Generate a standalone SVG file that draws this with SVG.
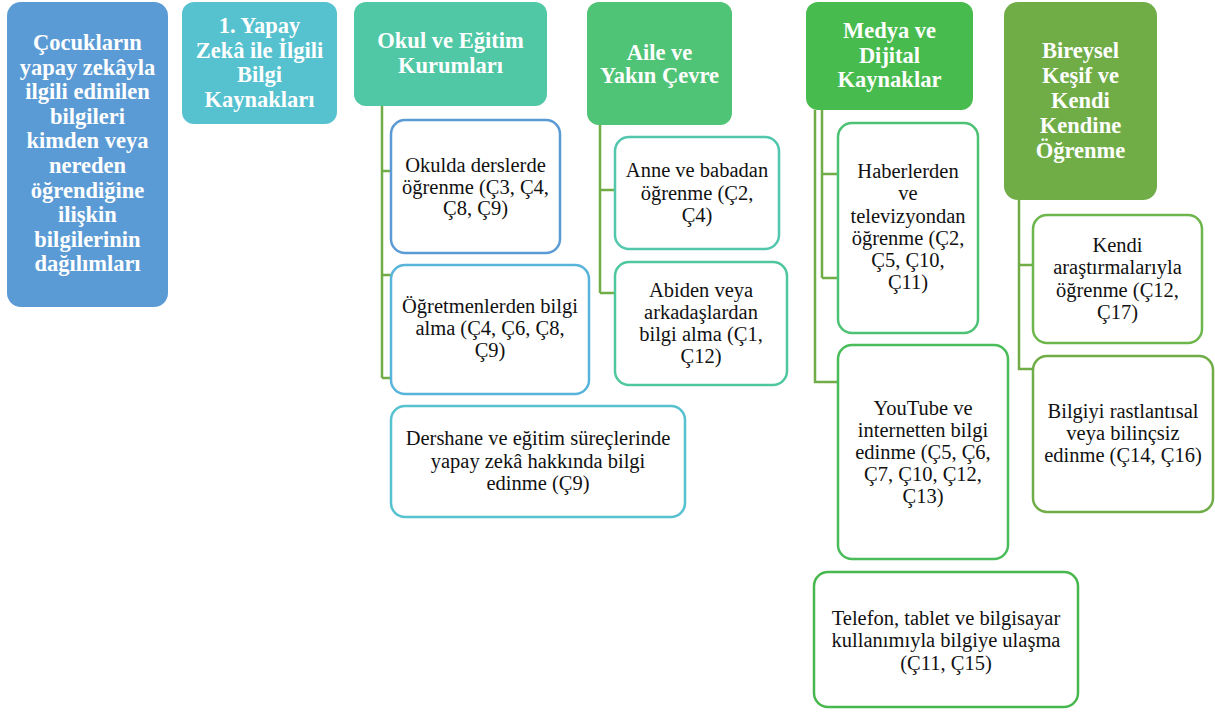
<svg xmlns="http://www.w3.org/2000/svg" width="1215" height="714" viewBox="0 0 1215 714">
<style>
.h{font-weight:bold;font-size:22.5px;fill:#fff;text-anchor:middle}
.t{font-size:20.5px;fill:#111;text-anchor:middle}
.c{fill:#fff;stroke-width:2.5}
.cn{fill:none;stroke:#70ad47;stroke-width:2.5}
</style>
<rect width="1215" height="714" fill="#fff"/>
<g id="connectors">
<path class="cn" d="M382 106 V378 M382 171 H391 M382 275 H391 M382 378 H397"/>
<path class="cn" d="M600 125 V293 M600 190 H615 M600 293 H615"/>
<path class="cn" d="M822 110 V278 M822 174 H838 M822 278 H838"/>
<path class="cn" d="M815 110 V382 H838"/>
<path class="cn" d="M1019 200 V369 H1033 M1019 265 H1033"/>
</g>
<g id="main">
<rect x="7" y="2" width="161" height="305" rx="14" fill="#5b9bd5"/>
<text class="h" font-family="Liberation Serif"><tspan x="87.5" y="50">Çocukların</tspan><tspan x="87.5" y="74.6">yapay zekâyla</tspan><tspan x="87.5" y="99.2">ilgili edinilen</tspan><tspan x="87.5" y="123.8">bilgileri</tspan><tspan x="87.5" y="148.4">kimden veya</tspan><tspan x="87.5" y="173">nereden</tspan><tspan x="87.5" y="197.6">öğrendiğine</tspan><tspan x="87.5" y="222.2">ilişkin</tspan><tspan x="87.5" y="246.8">bilgilerinin</tspan><tspan x="87.5" y="271.4">dağılımları</tspan></text>
</g>
<g id="yapay-zeka">
<rect x="182" y="2" width="155" height="122" rx="12" fill="#56c1cf"/>
<text class="h" font-family="Liberation Serif"><tspan x="259.5" y="33">1. Yapay</tspan><tspan x="259.5" y="57.6">Zekâ ile İlgili</tspan><tspan x="259.5" y="82.2">Bilgi</tspan><tspan x="259.5" y="106.8">Kaynakları</tspan></text>
</g>
<g id="okul">
<rect x="354" y="2" width="193" height="104" rx="12" fill="#50c8a6"/>
<text class="h" font-family="Liberation Serif"><tspan x="450.5" y="48">Okul ve Eğitim</tspan><tspan x="450.5" y="72.6">Kurumları</tspan></text>
</g>
<g id="aile">
<rect x="587" y="2" width="145" height="123" rx="12" fill="#4fc376"/>
<text class="h" font-family="Liberation Serif"><tspan x="659.5" y="59.5">Aile ve</tspan><tspan x="659.5" y="83">Yakın Çevre</tspan></text>
</g>
<g id="medya">
<rect x="806" y="2" width="167" height="108" rx="12" fill="#48bb4e"/>
<text class="h" font-family="Liberation Serif"><tspan x="889.5" y="38">Medya ve</tspan><tspan x="889.5" y="62.6">Dijital</tspan><tspan x="889.5" y="87.2">Kaynaklar</tspan></text>
</g>
<g id="bireysel">
<rect x="1004" y="2" width="153" height="198" rx="14" fill="#70ad47"/>
<text class="h" font-family="Liberation Serif"><tspan x="1080.5" y="58">Bireysel</tspan><tspan x="1080.5" y="83">Keşif ve</tspan><tspan x="1080.5" y="108">Kendi</tspan><tspan x="1080.5" y="133">Kendine</tspan><tspan x="1080.5" y="158">Öğrenme</tspan></text>
</g>
<g id="okulda">
<rect class="c" x="391" y="120" width="169" height="133" rx="14" stroke="#5b9bd5"/>
<text class="t" font-family="Liberation Serif"><tspan x="475.5" y="172">Okulda derslerde</tspan><tspan x="475.5" y="193.5">öğrenme (Ç3, Ç4,</tspan><tspan x="475.5" y="215">Ç8, Ç9)</tspan></text>
</g>
<g id="ogretmenler">
<rect class="c" x="391" y="265" width="198" height="129" rx="14" stroke="#58b4da"/>
<text class="t" font-family="Liberation Serif"><tspan x="490" y="313">Öğretmenlerden bilgi</tspan><tspan x="490" y="335">alma (Ç4, Ç6, Ç8,</tspan><tspan x="490" y="357">Ç9)</tspan></text>
</g>
<g id="dershane">
<rect class="c" x="391" y="406" width="294" height="111" rx="14" stroke="#56c1cf"/>
<text class="t" font-family="Liberation Serif"><tspan x="538" y="445">Dershane ve eğitim süreçlerinde</tspan><tspan x="538" y="467.5">yapay zekâ hakkında bilgi</tspan><tspan x="538" y="490">edinme (Ç9)</tspan></text>
</g>
<g id="anne-baba">
<rect class="c" x="615" y="137" width="164" height="112" rx="14" stroke="#52c7ae"/>
<text class="t" font-family="Liberation Serif"><tspan x="697" y="177">Anne ve babadan</tspan><tspan x="697" y="199.5">öğrenme (Ç2,</tspan><tspan x="697" y="222">Ç4)</tspan></text>
</g>
<g id="abiden">
<rect class="c" x="615" y="262" width="172" height="123" rx="14" stroke="#4fc79c"/>
<text class="t" font-family="Liberation Serif"><tspan x="701" y="297">Abiden veya</tspan><tspan x="701" y="319">arkadaşlardan</tspan><tspan x="701" y="341">bilgi alma (Ç1,</tspan><tspan x="701" y="363">Ç12)</tspan></text>
</g>
<g id="haberler">
<rect class="c" x="838" y="123" width="140" height="210" rx="14" stroke="#4dc274"/>
<text class="t" font-family="Liberation Serif"><tspan x="908" y="178">Haberlerden</tspan><tspan x="908" y="200">ve</tspan><tspan x="908" y="222.5">televizyondan</tspan><tspan x="908" y="245">öğrenme (Ç2,</tspan><tspan x="908" y="267">Ç5, Ç10,</tspan><tspan x="908" y="289">Ç11)</tspan></text>
</g>
<g id="youtube">
<rect class="c" x="838" y="345" width="170" height="214" rx="14" stroke="#4abd5a"/>
<text class="t" font-family="Liberation Serif"><tspan x="923" y="415">YouTube ve</tspan><tspan x="923" y="437">internetten bilgi</tspan><tspan x="923" y="459">edinme (Ç5, Ç6,</tspan><tspan x="923" y="481">Ç7, Ç10, Ç12,</tspan><tspan x="923" y="503">Ç13)</tspan></text>
</g>
<g id="telefon">
<rect class="c" x="814" y="572" width="264" height="135" rx="14" stroke="#48b84e"/>
<text class="t" font-family="Liberation Serif"><tspan x="946" y="625">Telefon, tablet ve bilgisayar</tspan><tspan x="946" y="647">kullanımıyla bilgiye ulaşma</tspan><tspan x="946" y="670">(Ç11, Ç15)</tspan></text>
</g>
<g id="kendi">
<rect class="c" x="1033" y="215" width="169" height="128" rx="14" stroke="#6db64c"/>
<text class="t" font-family="Liberation Serif"><tspan x="1117.5" y="252">Kendi</tspan><tspan x="1117.5" y="274">araştırmalarıyla</tspan><tspan x="1117.5" y="297">öğrenme (Ç12,</tspan><tspan x="1117.5" y="319">Ç17)</tspan></text>
</g>
<g id="bilgiyi">
<rect class="c" x="1033" y="356" width="180" height="156" rx="14" stroke="#70ad47"/>
<text class="t" font-family="Liberation Serif"><tspan x="1123" y="418">Bilgiyi rastlantısal</tspan><tspan x="1123" y="440">veya bilinçsiz</tspan><tspan x="1123" y="462">edinme (Ç14, Ç16)</tspan></text>
</g>
</svg>
